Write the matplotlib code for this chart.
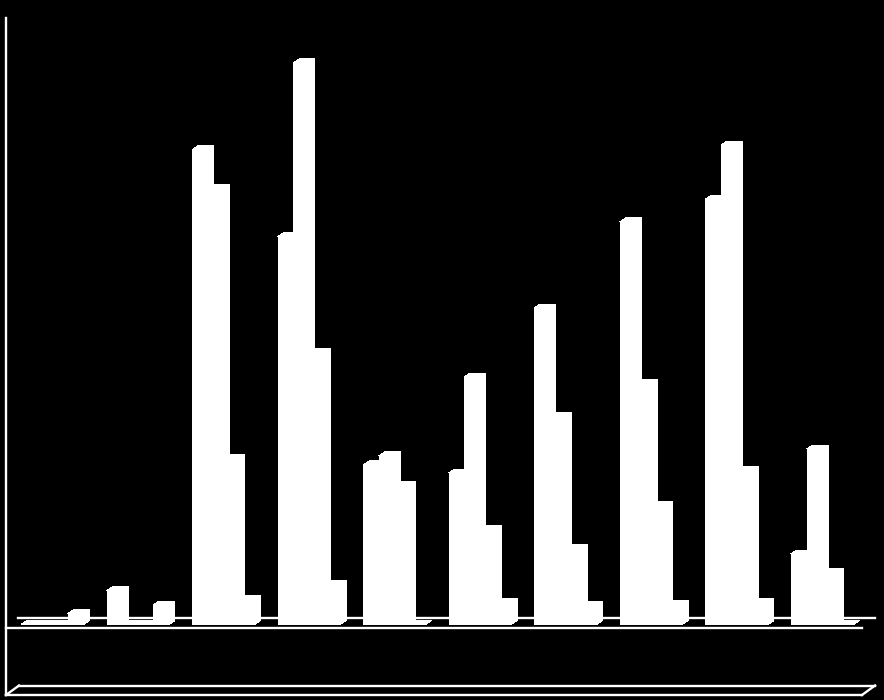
import numpy as np
from matplotlib import pyplot as plt
from matplotlib.patches import Polygon

# bar heights per group (no labels are visible in it)
series_1 = [0.0, 5.6, 79.1, 64.6, 26.6, 25.25, 52.75, 67.1, 70.9, 11.75]
series_2 = [0.0, 0.0, 72.75, 93.6, 28.1, 41.25, 34.75, 40.1, 79.9, 29.25]
series_3 = [0.0, 0.0, 27.75, 45.4, 23.25, 15.9, 12.6, 19.9, 25.75, 8.6]
series_4 = [1.8, 3.25, 4.25, 6.6, 0.0, 3.6, 3.1, 3.4, 3.75, 0.0]

W, H = 884, 700
GROUP_PX = 85.55
BAR_PX = 15.6
UNIT_PX = 6.0
X0_PX = 21.0    # left edge of the first group
Y0_PX = 624.5   # bar baseline
DEPTH_X = 6.0 / GROUP_PX
DEPTH_Y = 4.0 / UNIT_PX

fig = plt.figure(figsize=(W/100, H/100), dpi=100, facecolor="black")

# pseudo 3d frame, drawn in pixel coordinates
frame = fig.add_axes([0, 0, 1, 1])
frame.set_xlim(0, W)
frame.set_ylim(H, 0)
frame.axis("off")
frame_lines = [
    ([6, 6], [18, 695]),
    ([18, 875], [617.5, 617.5]),
    ([6, 862], [627.5, 627.5]),
    ([19, 875], [685.5, 685.5]),
    ([6, 862], [695, 695]),
    ([6, 19], [695, 685.5]),
    ([862, 875], [695, 685.5]),
]
for xs, ys in frame_lines:
    frame.plot(xs, ys, color="white", lw=1.7, solid_capstyle="projecting")

# bars live in their own axes on top, scaled so one group is one x unit
ax = fig.add_axes([0, 0, 1, 1])
ax.set_xlim(-X0_PX/GROUP_PX, (W-X0_PX)/GROUP_PX)
ax.set_ylim(-(H-Y0_PX)/UNIT_PX, Y0_PX/UNIT_PX)
ax.patch.set_alpha(0)
ax.axis("off")

bar_w = BAR_PX/GROUP_PX
groups = np.arange(len(series_1))
for n, values in enumerate([series_1, series_2, series_3, series_4]):
    lefts = groups + n*bar_w
    # antialiasing off, otherwise hairline seams show between the faces
    ax.bar(lefts, values, width=bar_w, align="edge", color="white", linewidth=0, antialiased=False)
    for x, v in zip(lefts, values):
        # top and side faces of the 3d bar
        ax.add_patch(Polygon([(x, v), (x+DEPTH_X, v+DEPTH_Y), (x+bar_w+DEPTH_X, v+DEPTH_Y),
                              (x+bar_w+DEPTH_X, DEPTH_Y), (x+bar_w, 0), (x+bar_w, v)],
                             closed=True, facecolor="white", edgecolor="none", antialiased=False))

fig.savefig("out.png", dpi=100, facecolor="black")
